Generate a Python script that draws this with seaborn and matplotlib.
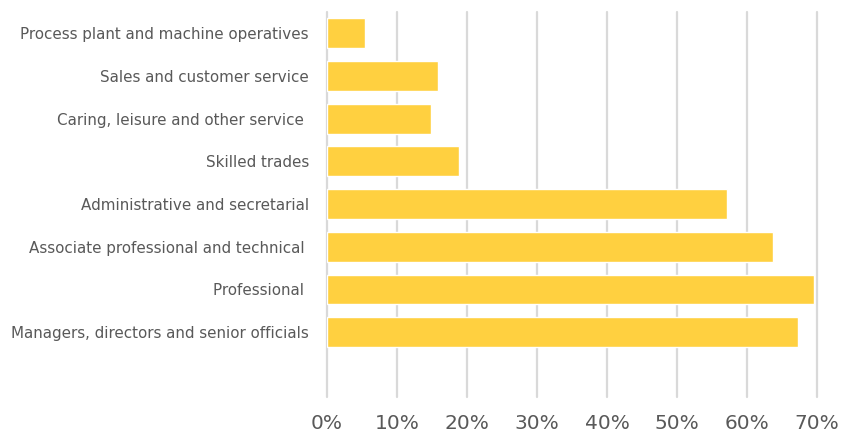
import matplotlib
matplotlib.use("Agg")
import matplotlib.pyplot as plt
import seaborn as sns
import pandas as pd
from matplotlib.ticker import FuncFormatter, MultipleLocator

categories = [
    "Process plant and machine operatives",
    "Sales and customer service",
    "Caring, leisure and other service ",
    "Skilled trades",
    "Administrative and secretarial",
    "Associate professional and technical ",
    "Professional ",
    "Managers, directors and senior officials",
]
values = [5.4, 15.9, 14.9, 18.9, 57.2, 63.7, 69.6, 67.3]

df = pd.DataFrame({"category": categories, "value": values})

sns.set_theme(style="white")
plt.rcParams["font.family"] = ["DejaVu Sans"]

fig = plt.figure(figsize=(8.41, 4.32), dpi=100)
ax = fig.add_axes([327 / 841, 1 - 397 / 432, (817 - 327) / 841, (397 - 12) / 432])

sns.barplot(data=df, x="value", y="category", color="#FFD040", saturation=1,
            width=0.7, ax=ax, orient="h")

ax.set_xlim(0, 70)
ax.set_ylim(8.52, -0.5)
ax.xaxis.set_major_locator(MultipleLocator(10))
ax.xaxis.set_major_formatter(FuncFormatter(lambda v, p: f"{int(round(v))}%"))
ax.grid(axis="x", color="#D9D9D9", linewidth=1.6)
for gl in ax.get_xgridlines():
    gl.set_clip_on(False)
ax.set_axisbelow(True)
for s in ax.spines.values():
    s.set_visible(False)
ax.set_xlabel("")
ax.set_ylabel("")
ax.tick_params(axis="y", length=0, pad=13, labelsize=10.9, labelcolor="#595959")
ax.tick_params(axis="x", length=0, pad=12, labelsize=14.5, labelcolor="#595959")

fig.savefig("out.png", dpi=100)
